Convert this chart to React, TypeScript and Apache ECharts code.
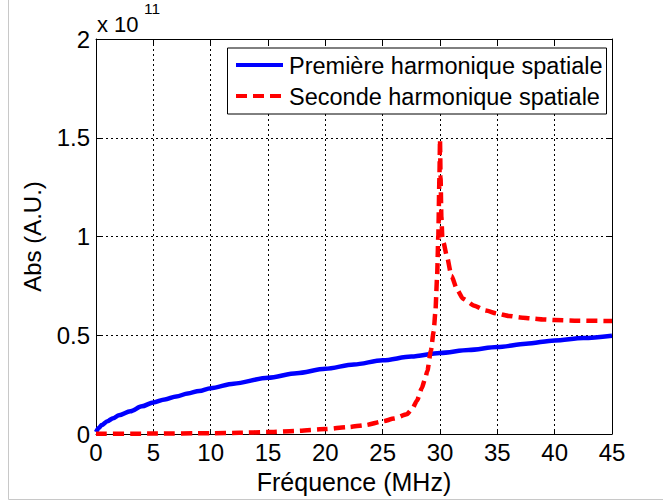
import React, { useEffect, useRef } from "react";
import * as echarts from "echarts";

const xTicks = [0, 5, 10, 15, 20, 25, 30, 35, 40, 45];
const yTicks = [0, 0.5, 1, 1.5, 2];
const seriesNames = ["Première harmonique spatiale", "Seconde harmonique spatiale"];
const seriesColors = ["#0000ff", "#ff0000"];

// values in units of 1e11
const firstX = [0, 0.25, 0.5, 1, 1.5, 2, 3, 4, 5, 6, 7, 8, 9, 10, 12, 15, 17.5, 20, 22.5, 25, 27.5, 30, 32.5, 35, 37.5, 40, 42.5, 45];
const firstY = [0.01, 0.03, 0.045, 0.065, 0.08, 0.095, 0.115, 0.14, 0.16, 0.175, 0.19, 0.205, 0.218, 0.232, 0.255, 0.285, 0.308, 0.33, 0.352, 0.373, 0.392, 0.41, 0.425, 0.44, 0.457, 0.474, 0.486, 0.498];

const secondX = [0, 5, 10, 12.5, 15, 17.5, 20, 22, 23.5, 25, 26, 27.1, 27.6, 28, 28.4, 28.7, 28.9, 29.2, 29.45, 29.6, 29.75, 29.85, 29.95, 30.0, 30.05, 30.12, 30.2, 30.3, 30.6, 31, 31.5, 32, 33, 34, 35, 36, 37, 38, 39, 40, 42, 45];
const secondY = [0.001, 0.002, 0.004, 0.006, 0.01, 0.016, 0.025, 0.035, 0.045, 0.064, 0.078, 0.1, 0.13, 0.17, 0.23, 0.28, 0.32, 0.42, 0.52, 0.62, 0.8, 1.0, 1.3, 1.49, 1.3, 1.1, 1.0, 0.97, 0.9, 0.8, 0.73, 0.685, 0.65, 0.625, 0.61, 0.598, 0.59, 0.585, 0.58, 0.577, 0.574, 0.572];

const FONT = "Liberation Sans, Arial, sans-serif";

export default function App() {
  const ref = useRef<HTMLDivElement>(null);
  useEffect(() => {
    if (!ref.current) return;
    const chart = echarts.init(ref.current, null, { renderer: "svg" });
    const grid = { left: 96, right: 51, top: 39, bottom: 70 };
    const splitLine = { show: true, lineStyle: { color: "#000", type: [2, 3] as any, width: 1 } };
    const axisLine = { show: true, onZero: false, lineStyle: { color: "#000", width: 1 } };
    const axisTick = { show: true, inside: true, length: 5, lineStyle: { color: "#000" } };
    const legendItems: any[] = [];
    seriesNames.forEach((name, i) => {
      const y = 65 + i * 31;
      legendItems.push({
        type: "line",
        shape: { x1: 236, y1: y, x2: 283, y2: y },
        style: { stroke: seriesColors[i], lineWidth: 4, lineDash: i === 1 ? [11, 6] : null },
        z: 101,
      });
      legendItems.push({
        type: "text",
        x: 289,
        y: y + 1,
        style: {
          text: name,
          fontFamily: FONT,
          fontSize: 23.5,
          fill: "#000",
          verticalAlign: "middle",
          align: "left",
        },
        z: 101,
      });
    });
    chart.setOption({
      animation: false,
      backgroundColor: "#fff",
      grid,
      xAxis: [
        {
          type: "value",
          min: 0,
          max: 45,
          interval: 5,
          axisLine,
          axisTick,
          splitLine,
          axisLabel: { color: "#000", fontFamily: FONT, fontSize: 24, margin: 6 },
          name: "Fréquence (MHz)",
          nameLocation: "middle",
          nameGap: 35,
          nameTextStyle: { color: "#000", fontFamily: FONT, fontSize: 25 },
        },
        {
          type: "value",
          position: "top",
          min: 0,
          max: 45,
          interval: 5,
          axisLine,
          axisTick,
          splitLine: { show: false },
          axisLabel: { show: false },
        },
      ],
      yAxis: [
        {
          type: "value",
          min: 0,
          max: 2,
          interval: 0.5,
          axisLine,
          axisTick,
          splitLine,
          axisLabel: { color: "#000", fontFamily: FONT, fontSize: 24, margin: 6, formatter: (v: number) => String(v) },
          name: "Abs (A.U.)",
          nameLocation: "middle",
          nameGap: 52,
          nameTextStyle: { color: "#000", fontFamily: FONT, fontSize: 24 },
        },
        {
          type: "value",
          position: "right",
          min: 0,
          max: 2,
          interval: 0.5,
          axisLine,
          axisTick,
          splitLine: { show: false },
          axisLabel: { show: false },
        },
      ],
      graphic: [
        { type: "line", shape: { x1: 8.5, y1: 0, x2: 8.5, y2: 499.5 }, style: { stroke: "#c8c8c8", lineWidth: 1 } },
        { type: "line", shape: { x1: 8.5, y1: 499.5, x2: 663, y2: 499.5 }, style: { stroke: "#c8c8c8", lineWidth: 1 } },
        {
          type: "text",
          x: 97,
          y: 13,
          style: { text: "x 10", fontFamily: FONT, fontSize: 22, fill: "#000" },
        },
        {
          type: "text",
          x: 144,
          y: 0,
          style: { text: "11", fontFamily: FONT, fontSize: 15.5, fill: "#000" },
        },
        {
          type: "rect",
          shape: { x: 227.5, y: 48, width: 379, height: 66 },
          style: { fill: "#fff", stroke: "#000", lineWidth: 1 },
          z: 100,
        },
        ...legendItems,
      ],
      series: [
        {
          name: seriesNames[0],
          type: "line",
          showSymbol: false,
          symbol: "none",
          smooth: 0.3,
          smoothMonotone: "x",
          lineStyle: { color: seriesColors[0], width: 4.5 },
          itemStyle: { color: seriesColors[0] },
          data: firstX.map((x, i) => [x, firstY[i]]),
          z: 3,
        },
        {
          name: seriesNames[1],
          type: "line",
          showSymbol: false,
          symbol: "none",
          smooth: 0.2,
          smoothMonotone: "x",
          lineStyle: { color: seriesColors[1], width: 4.5, type: [11, 6] as any },
          itemStyle: { color: seriesColors[1] },
          data: secondX.map((x, i) => [x, secondY[i]]),
          z: 4,
        },
      ],
    });
    return () => chart.dispose();
  }, []);
  return (
    <div
      ref={ref}
      style={{ position: "fixed", left: 0, top: 0, width: 663, height: 504, background: "#fff" }}
    />
  );
}
